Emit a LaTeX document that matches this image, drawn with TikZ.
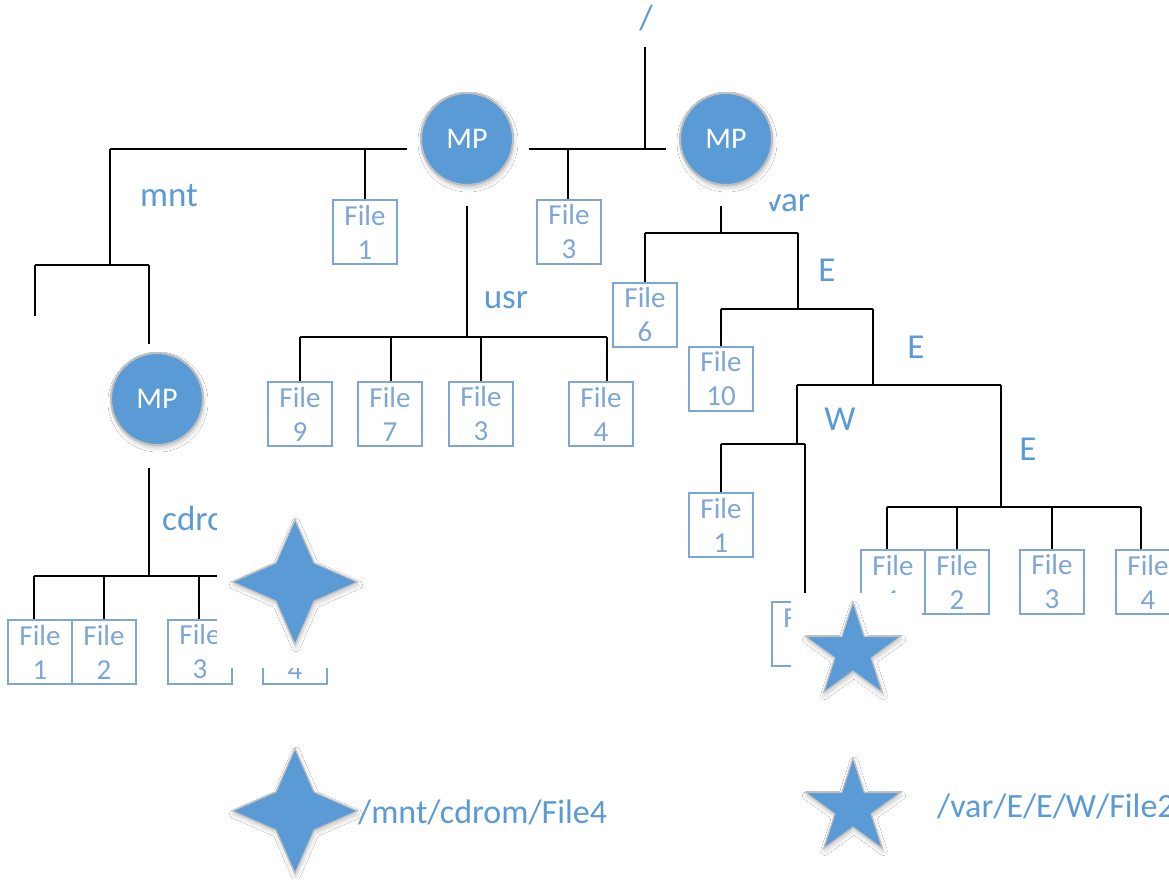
\documentclass[tikz,border=0pt]{standalone}
\usepackage{fontspec}
\setmainfont{Carlito}
\usetikzlibrary{shapes.geometric,shadows.blur}

\definecolor{accent}{RGB}{91,155,213}
\definecolor{filecol}{RGB}{125,166,214}
\definecolor{rimgray}{RGB}{191,191,191}

\tikzset{
  conn/.style={line width=2pt, draw=black},
  filebox/.style={draw=filecol, line width=1.8pt, text=filecol,
    minimum width=64pt, minimum height=64pt, inner sep=0pt, align=center,
    font=\fontsize{29}{34}\selectfont},
  lbl/.style={text=accent, inner sep=0pt, anchor=base,
    font=\fontsize{35}{40}\selectfont},
  pathlbl/.style={text=accent, inner sep=0pt, anchor=base west,
    font=\fontsize{34}{40}\selectfont},
  softshadow/.style={blur shadow={shadow xshift=1pt, shadow yshift=-3pt,
    shadow blur radius=4pt, shadow blur steps=10, shadow opacity=22}},
  mpnode/.style={circle, fill=accent, draw=rimgray, line width=2pt,
    minimum size=92pt, inner sep=0pt, text=white,
    font=\fontsize{30}{36}\selectfont, softshadow},
  fourstar/.style={star, star points=4, star point ratio=2.32,
    minimum size=125pt, inner sep=0pt, fill=accent, draw=rimgray,
    line width=1.2pt, softshadow},
  fivestar/.style={star, star points=5, star point ratio=2.62,
    minimum size=100pt, inner sep=0pt, fill=accent, draw=rimgray,
    line width=1.2pt, softshadow},
  mask/.style={fill=white}
}

\begin{document}
\begin{tikzpicture}[x=1pt,y=-1pt]
\fill[white] (0,0) rectangle (1169,879);
\useasboundingbox (0,0) rectangle (1169,879);

% ---------- mount points ----------
\node[mpnode] (mp1) at (467,139) {MP};
\node[mpnode] (mp2) at (726,139) {MP};
\node[mpnode] (mp3) at (157,399) {MP};

% ---------- files ----------
\node[filebox] (fa1) at (365,232) {File\\1};
\node[filebox] (fa3) at (569,232) {File\\3};

\node[filebox] (u1) at (300,414) {File\\9};
\node[filebox] (u2) at (390,414) {File\\7};
\node[filebox] (u3) at (481,414) {File\\3};
\node[filebox] (u4) at (601,414) {File\\4};

\node[filebox] (c1) at (40,652) {File\\1};
\node[filebox] (c2) at (104,652) {File\\2};
\node[filebox] (c3) at (200,652) {File\\3};
\node[filebox] (c4) at (295,652) {File\\4};

\node[filebox] (f6) at (645,315) {File\\6};
\node[filebox] (f10) at (721,379) {File\\10};
\node[filebox] (w1) at (721,525) {File\\1};
\node[filebox] (w2) at (804,634) {File\\2};

\node[filebox] (x1) at (893,582) {File\\1};
\node[filebox] (x2) at (957,582) {File\\2};
\node[filebox] (x3) at (1052,582) {File\\3};
\node[filebox] (x4) at (1148,582) {File\\4};

% ---------- labels ----------
\node[lbl] (root) at (646,29) {/};
\node[lbl] (mnt) at (169,206) {mnt};
\node[lbl] (usr) at (506,308) {usr};
\node[lbl] (var) at (788,211) {var};
\node[lbl] (e1) at (827,281) {E};
\node[lbl] (e2) at (916,358) {E};
\node[lbl] (w) at (840,430) {W};
\node[lbl] (e3) at (1028,460) {E};
\node[pathlbl, font=\fontsize{35}{40}\selectfont] (cdrom) at (162,530) {cdrom};

% ---------- root rail ----------
\coordinate (rootTop) at (645,47);
\coordinate (rootJ) at (645,149);
\coordinate (railR) at (529,149);
\coordinate (railRend) at (666,149);
\coordinate (railL) at (407,149);
\coordinate (mntJ) at (110,149);
\coordinate (fa1j) at (365,149);
\coordinate (fa3j) at (568,149);
\draw[conn] (rootTop) -- (rootJ);
\draw[conn] (railR) -- (railRend);
\draw[conn] (mntJ) -- (railL);
\draw[conn] (fa1j) -- (fa1j |- fa1.north);
\draw[conn] (fa3j) -- (fa3j |- fa3.north);

% ---------- mnt ----------
\coordinate (mntB) at (110,265);
\coordinate (mntBL) at (35,265);
\coordinate (mntBR) at (149,265);
\coordinate (stub) at (35,316);
\coordinate (mp3top) at (149,344);
\draw[conn] (mntJ) -- (mntB);
\draw[conn] (mntBL) -- (mntBR);
\draw[conn] (mntBL) -- (stub);
\draw[conn] (mntBR) -- (mp3top);

% ---------- cdrom ----------
\coordinate (mp3bot) at (149,468);
\coordinate (cdJ) at (149,576);
\coordinate (c1j) at (34,576);
\coordinate (c2j) at (104,576);
\coordinate (c3j) at (199,576);
\coordinate (c4j) at (295,576);
\draw[conn] (mp3bot) -- (cdJ);
\draw[conn] (c1j) -- (c4j);
\foreach \k in {1,2,3,4} \draw[conn] (c\k j) -- (c\k j |- c\k.north);

% ---------- usr ----------
\coordinate (mp1bot) at (467,206);
\coordinate (usrJ) at (467,337);
\coordinate (u1j) at (300,337);
\coordinate (u2j) at (391,337);
\coordinate (u3j) at (481,337);
\coordinate (u4j) at (607,337);
\draw[conn] (mp1bot) -- (usrJ);
\draw[conn] (u1j) -- (u4j);
\foreach \k in {1,2,3,4} \draw[conn] (u\k j) -- (u\k j |- u\k.north);

% ---------- var ----------
\coordinate (mp2bot) at (721,206);
\coordinate (varJ) at (721,233);
\coordinate (f6j) at (645,233);
\coordinate (e1j) at (798,233);
\coordinate (e1b) at (798,309);
\coordinate (f10j) at (721,309);
\coordinate (e2j) at (873,309);
\coordinate (e2b) at (873,385);
\coordinate (wj) at (797,385);
\coordinate (e3j) at (1001,385);
\coordinate (wb) at (797,444);
\coordinate (w1j) at (721,444);
\coordinate (w2j) at (805,444);
\coordinate (e3b) at (1001,507);
\coordinate (x1j) at (887,507);
\coordinate (x2j) at (957,507);
\coordinate (x3j) at (1052,507);
\coordinate (x4j) at (1141,507);
\draw[conn] (mp2bot) -- (varJ);
\draw[conn] (f6j) -- (e1j);
\draw[conn] (f6j) -- (f6j |- f6.north);
\draw[conn] (e1j) -- (e1b);
\draw[conn] (f10j) -- (e2j);
\draw[conn] (f10j) -- (f10j |- f10.north);
\draw[conn] (e2j) -- (e2b);
\draw[conn] (wj) -- (e3j);
\draw[conn] (wj) -- (wb);
\draw[conn] (w1j) -- (w2j);
\draw[conn] (w1j) -- (w1j |- w1.north);
\draw[conn] (w2j) -- (w2j |- w2.north);
\draw[conn] (e3j) -- (e3b);
\draw[conn] (x1j) -- (x4j);
\foreach \k in {1,2,3,4} \draw[conn] (x\k j) -- (x\k j |- x\k.north);

% ---------- opaque areas behind the markers ----------
\fill[mask] (755,183) rectangle (774,202);
\fill[mask] (217,498) rectangle (373,668);
\fill[mask] (791,593) rectangle (922,700);

% ---------- markers ----------
\node[fourstar] (s4a) at (295,582) {};
\node[fivestar] (s5a) at (853,652) {};
\node[fourstar] (s4b) at (295,811) {};
\node[fivestar] (s5b) at (853,808) {};

\node[pathlbl] (p1) at (358,823) {/mnt/cdrom/File4};
\node[pathlbl] (p2) at (937,817) {/var/E/E/W/File2};
\end{tikzpicture}
\end{document}
